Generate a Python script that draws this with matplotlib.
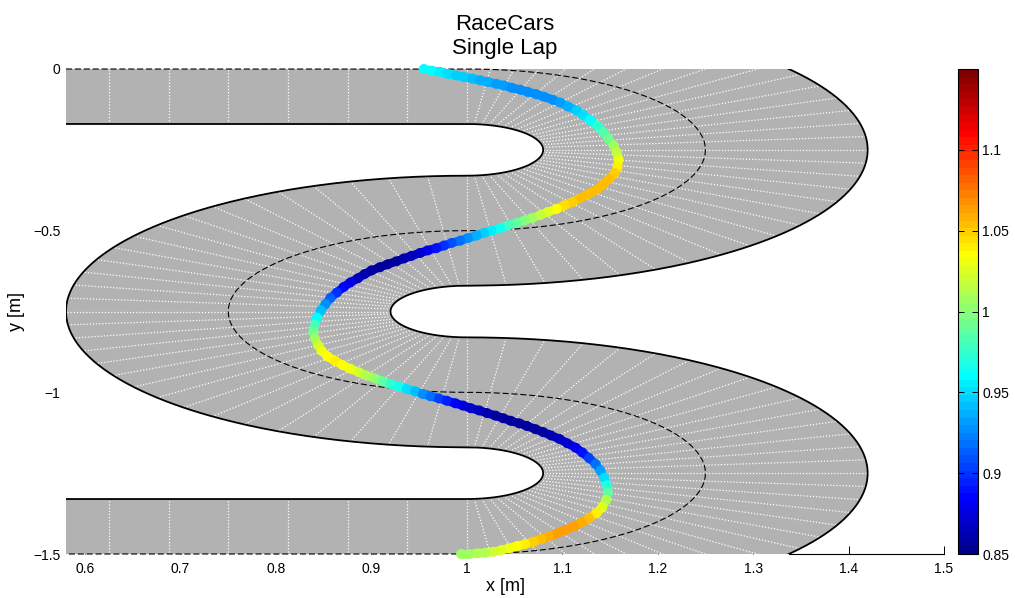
import numpy as np
import matplotlib
matplotlib.use("Agg")
import matplotlib.pyplot as plt
from matplotlib.colors import ListedColormap, Normalize
from matplotlib.collections import LineCollection
from matplotlib.ticker import FormatStrFormatter

plt.rcParams["font.family"] = ["Liberation Sans", "DejaVu Sans"]

# ---------------- track description ----------------
X_LIM = (0.58, 1.5)
Y_LIM = (-1.5, 0.0)
HALF_WIDTH = 0.17
TURN_RADIUS = 0.25
STRAIGHT_END = 1.0
STRAIGHT_STEP = 0.0625
TURN_CENTERS_Y = [-0.25, -0.75, -1.25]
TURN_DIRECTIONS = [-1, 1, -1]          # -1 clockwise, +1 counter-clockwise
TURN_SEGMENTS = 32

# ---------------- recorded lap ----------------
car_x = [0.955, 0.963, 0.972, 0.980, 0.989, 0.997, 1.006, 1.014, 1.022, 1.031,
         1.039, 1.047, 1.056, 1.064, 1.073, 1.081, 1.090, 1.098, 1.106, 1.115,
         1.122, 1.129, 1.137, 1.143, 1.148, 1.154, 1.157, 1.159, 1.158, 1.155,
         1.149, 1.143, 1.136, 1.127, 1.119, 1.111, 1.102, 1.094, 1.085, 1.077,
         1.068, 1.060, 1.052, 1.043, 1.035, 1.026, 1.018, 1.010, 1.001, 0.993,
         0.984, 0.976, 0.968, 0.959, 0.951, 0.942, 0.934, 0.926, 0.917, 0.909,
         0.900, 0.893, 0.886, 0.878, 0.871, 0.864, 0.857, 0.852, 0.847, 0.843,
         0.841, 0.839, 0.841, 0.844, 0.848, 0.854, 0.862, 0.870, 0.878, 0.887,
         0.895, 0.904, 0.912, 0.920, 0.929, 0.937, 0.946, 0.954, 0.962, 0.971,
         0.979, 0.988, 0.996, 1.004, 1.013, 1.021, 1.030, 1.038, 1.046, 1.055,
         1.063, 1.072, 1.080, 1.088, 1.097, 1.105, 1.114, 1.121, 1.128, 1.135,
         1.140, 1.144, 1.147, 1.148, 1.146, 1.142, 1.136, 1.128, 1.120, 1.112,
         1.103, 1.095, 1.086, 1.078, 1.070, 1.061, 1.053, 1.044, 1.036, 1.028,
         1.019, 1.011, 1.002, 0.994]
car_y = [0.000, -0.005, -0.009, -0.015, -0.020, -0.025, -0.030, -0.035, -0.040, -0.046,
         -0.051, -0.058, -0.064, -0.071, -0.078, -0.086, -0.095, -0.104, -0.116, -0.128,
         -0.142, -0.158, -0.176, -0.195, -0.215, -0.237, -0.258, -0.280, -0.302, -0.322,
         -0.340, -0.357, -0.373, -0.387, -0.399, -0.411, -0.422, -0.433, -0.442, -0.452,
         -0.461, -0.469, -0.476, -0.484, -0.492, -0.500, -0.507, -0.515, -0.523, -0.531,
         -0.538, -0.546, -0.554, -0.561, -0.569, -0.578, -0.586, -0.595, -0.604, -0.613,
         -0.623, -0.634, -0.647, -0.660, -0.674, -0.691, -0.708, -0.727, -0.747, -0.769,
         -0.790, -0.812, -0.834, -0.854, -0.872, -0.889, -0.903, -0.916, -0.927, -0.938,
         -0.948, -0.957, -0.966, -0.974, -0.982, -0.990, -0.997, -1.005, -1.012, -1.019,
         -1.026, -1.034, -1.041, -1.049, -1.056, -1.064, -1.072, -1.080, -1.088, -1.096,
         -1.104, -1.114, -1.123, -1.133, -1.144, -1.157, -1.171, -1.186, -1.203, -1.222,
         -1.242, -1.264, -1.287, -1.310, -1.333, -1.355, -1.373, -1.389, -1.403, -1.415,
         -1.426, -1.436, -1.445, -1.454, -1.462, -1.469, -1.475, -1.482, -1.488, -1.493,
         -1.496, -1.498, -1.500, -1.500]
car_v = [0.962, 0.958, 0.955, 0.952, 0.948, 0.945, 0.942, 0.938, 0.935, 0.932,
         0.930, 0.928, 0.926, 0.925, 0.925, 0.926, 0.928, 0.932, 0.938, 0.945,
         0.953, 0.962, 0.972, 0.982, 0.993, 1.005, 1.018, 1.030, 1.040, 1.047,
         1.052, 1.055, 1.055, 1.054, 1.052, 1.048, 1.043, 1.035, 1.027, 1.018,
         1.008, 0.998, 0.988, 0.977, 0.967, 0.957, 0.947, 0.937, 0.927, 0.917,
         0.907, 0.897, 0.888, 0.880, 0.873, 0.867, 0.862, 0.858, 0.856, 0.856,
         0.858, 0.862, 0.868, 0.876, 0.886, 0.898, 0.912, 0.927, 0.943, 0.960,
         0.977, 0.993, 1.008, 1.020, 1.030, 1.036, 1.038, 1.036, 1.030, 1.022,
         1.012, 1.000, 0.988, 0.976, 0.964, 0.952, 0.940, 0.928, 0.916, 0.905,
         0.895, 0.886, 0.878, 0.871, 0.865, 0.861, 0.858, 0.856, 0.855, 0.855,
         0.856, 0.857, 0.859, 0.862, 0.866, 0.872, 0.880, 0.890, 0.902, 0.916,
         0.932, 0.950, 0.970, 0.990, 1.010, 1.028, 1.042, 1.053, 1.060, 1.064,
         1.065, 1.063, 1.059, 1.054, 1.048, 1.042, 1.036, 1.030, 1.024, 1.019,
         1.014, 1.010, 1.007, 1.005]

V_RANGE = (0.85, 1.15)
CBAR_TICKS = [0.85, 0.9, 0.95, 1.0, 1.05, 1.1]
CBAR_LABELS = ["0.85", "0.9", "0.95", "1", "1.05", "1.1"]
X_TICKS = [0.6, 0.7, 0.8, 0.9, 1.0, 1.1, 1.2, 1.3, 1.4, 1.5]
Y_TICKS = [-1.5, -1.0, -0.5, 0.0]
Y_LABELS = ["\u22121.5", "\u22121", "\u22120.5", "0"]


def matlab_jet(m=64):
    n = int(np.ceil(m / 4))
    u = np.concatenate([np.arange(1, n + 1) / n, np.ones(n - 1), np.arange(n, 0, -1) / n])
    g = int(np.ceil(n / 2)) - (1 if m % 4 == 1 else 0) + np.arange(1, len(u) + 1)
    r = g + n
    b = g - n
    cm = np.zeros((m, 3))
    rv = r[r <= m]
    bv = b[b >= 1]
    gv = g[g <= m]
    cm[rv - 1, 0] = u[:len(rv)]
    cm[gv - 1, 1] = u[:len(gv)]
    cm[bv - 1, 2] = u[-len(bv):]
    return ListedColormap(cm)


def build_centerline(n_straight=60, n_turn=300):
    pts, tans = [], []
    xs = np.linspace(X_LIM[0], STRAIGHT_END, n_straight)
    pts += [(x, 0.0) for x in xs]
    tans += [(1.0, 0.0)] * len(xs)
    for cy, d in zip(TURN_CENTERS_Y, TURN_DIRECTIONS):
        th = np.pi / 2 + d * np.linspace(0, np.pi, n_turn)
        pts += list(zip(STRAIGHT_END + TURN_RADIUS * np.cos(th), cy + TURN_RADIUS * np.sin(th)))
        tans += list(zip(-d * np.sin(th), d * np.cos(th)))
    xs = np.linspace(STRAIGHT_END, X_LIM[0], n_straight)
    pts += [(x, -1.5) for x in xs]
    tans += [(-1.0, 0.0)] * len(xs)
    return np.array(pts), np.array(tans)


center, tangent = build_centerline()
normal_left = np.column_stack([-tangent[:, 1], tangent[:, 0]])
edge_a = center + HALF_WIDTH * normal_left
edge_b = center - HALF_WIDTH * normal_left

# cross-section lines of the track (shared ends drawn once)
sections = []
x_k = STRAIGHT_END - STRAIGHT_STEP
while x_k >= X_LIM[0]:
    sections.append([(x_k, -HALF_WIDTH), (x_k, HALF_WIDTH)])
    sections.append([(x_k, -1.5 - HALF_WIDTH), (x_k, -1.5 + HALF_WIDTH)])
    x_k -= STRAIGHT_STEP
for i, (cy, d) in enumerate(zip(TURN_CENTERS_Y, TURN_DIRECTIONS)):
    for k in range(0 if i == 0 else 1, TURN_SEGMENTS + 1):
        th = np.pi / 2 + d * k * np.pi / TURN_SEGMENTS
        c, s = np.cos(th), np.sin(th)
        r0, r1 = TURN_RADIUS - HALF_WIDTH, TURN_RADIUS + HALF_WIDTH
        sections.append([(STRAIGHT_END + r0 * c, cy + r0 * s),
                         (STRAIGHT_END + r1 * c, cy + r1 * s)])

fig = plt.figure(figsize=(10.15, 5.98), dpi=100)
ax = fig.add_axes([66 / 1015, 1 - 554 / 598, 878 / 1015, 485 / 598])
cax = fig.add_axes([958 / 1015, 1 - 554 / 598, 20 / 1015, 485 / 598])

track_poly = np.vstack([edge_a, edge_b[::-1]])
ax.fill(track_poly[:, 0], track_poly[:, 1], color=(0.698, 0.698, 0.698), lw=0, zorder=1)
ax.add_collection(LineCollection(sections, colors="white", linewidths=0.9,
                                 linestyles=(0, (1.0, 1.5)), zorder=2))
ax.plot(edge_a[:, 0], edge_a[:, 1], color="black", lw=1.3, zorder=3)
ax.plot(edge_b[:, 0], edge_b[:, 1], color="black", lw=1.3, zorder=3)
ax.plot(center[:, 0], center[:, 1], color="black", lw=0.8, dashes=(5.5, 2.5),
        zorder=3, clip_on=False)

cmap = matlab_jet(64)
norm = Normalize(*V_RANGE)

# lap trace: continuous coloured band plus the sample markers
pts = np.column_stack([car_x, car_y])
segs = np.stack([pts[:-1], pts[1:]], axis=1)
seg_v = 0.5 * (np.array(car_v[:-1]) + np.array(car_v[1:]))
band = LineCollection(segs, cmap=cmap, norm=norm, linewidths=6.2,
                      capstyle="round", zorder=4, clip_on=False)
band.set_array(seg_v)
ax.add_collection(band)
ax.scatter(car_x, car_y, c=car_v, cmap=cmap, norm=norm, s=52, linewidths=0,
           zorder=5, clip_on=False)

ax.set_xlim(*X_LIM)
ax.set_ylim(*Y_LIM)
ax.set_xticks(X_TICKS)
ax.set_yticks(Y_TICKS)
ax.set_yticklabels(Y_LABELS)
ax.xaxis.set_major_formatter(FormatStrFormatter("%g"))
ax.tick_params(axis="x", direction="in", length=6, width=0.7, labelsize=10, pad=6)
ax.tick_params(axis="y", direction="in", length=0, labelsize=10, pad=4)
ax.set_axisbelow(True)
for side in ("top", "right", "left"):
    ax.spines[side].set_visible(False)
outer_end = STRAIGHT_END + np.sqrt((TURN_RADIUS + HALF_WIDTH) ** 2 - TURN_RADIUS ** 2)
ax.spines["bottom"].set_bounds(outer_end, X_LIM[1])
ax.spines["bottom"].set_linewidth(0.8)

ax.set_title("RaceCars\nSingle Lap", fontsize=16, pad=11, linespacing=1.15)
ax.set_xlabel("x [m]", fontsize=13, labelpad=1)
ax.set_ylabel("y [m]", fontsize=13, labelpad=6)

sm = plt.cm.ScalarMappable(norm=norm, cmap=cmap)
cb = fig.colorbar(sm, cax=cax, ticks=CBAR_TICKS)
cb.ax.set_yticklabels(CBAR_LABELS)
cb.ax.tick_params(direction="in", left=True, right=True, length=4, width=0.7,
                  labelsize=10, pad=3)
cb.outline.set_linewidth(0.8)

fig.savefig("out.png", dpi=100)
